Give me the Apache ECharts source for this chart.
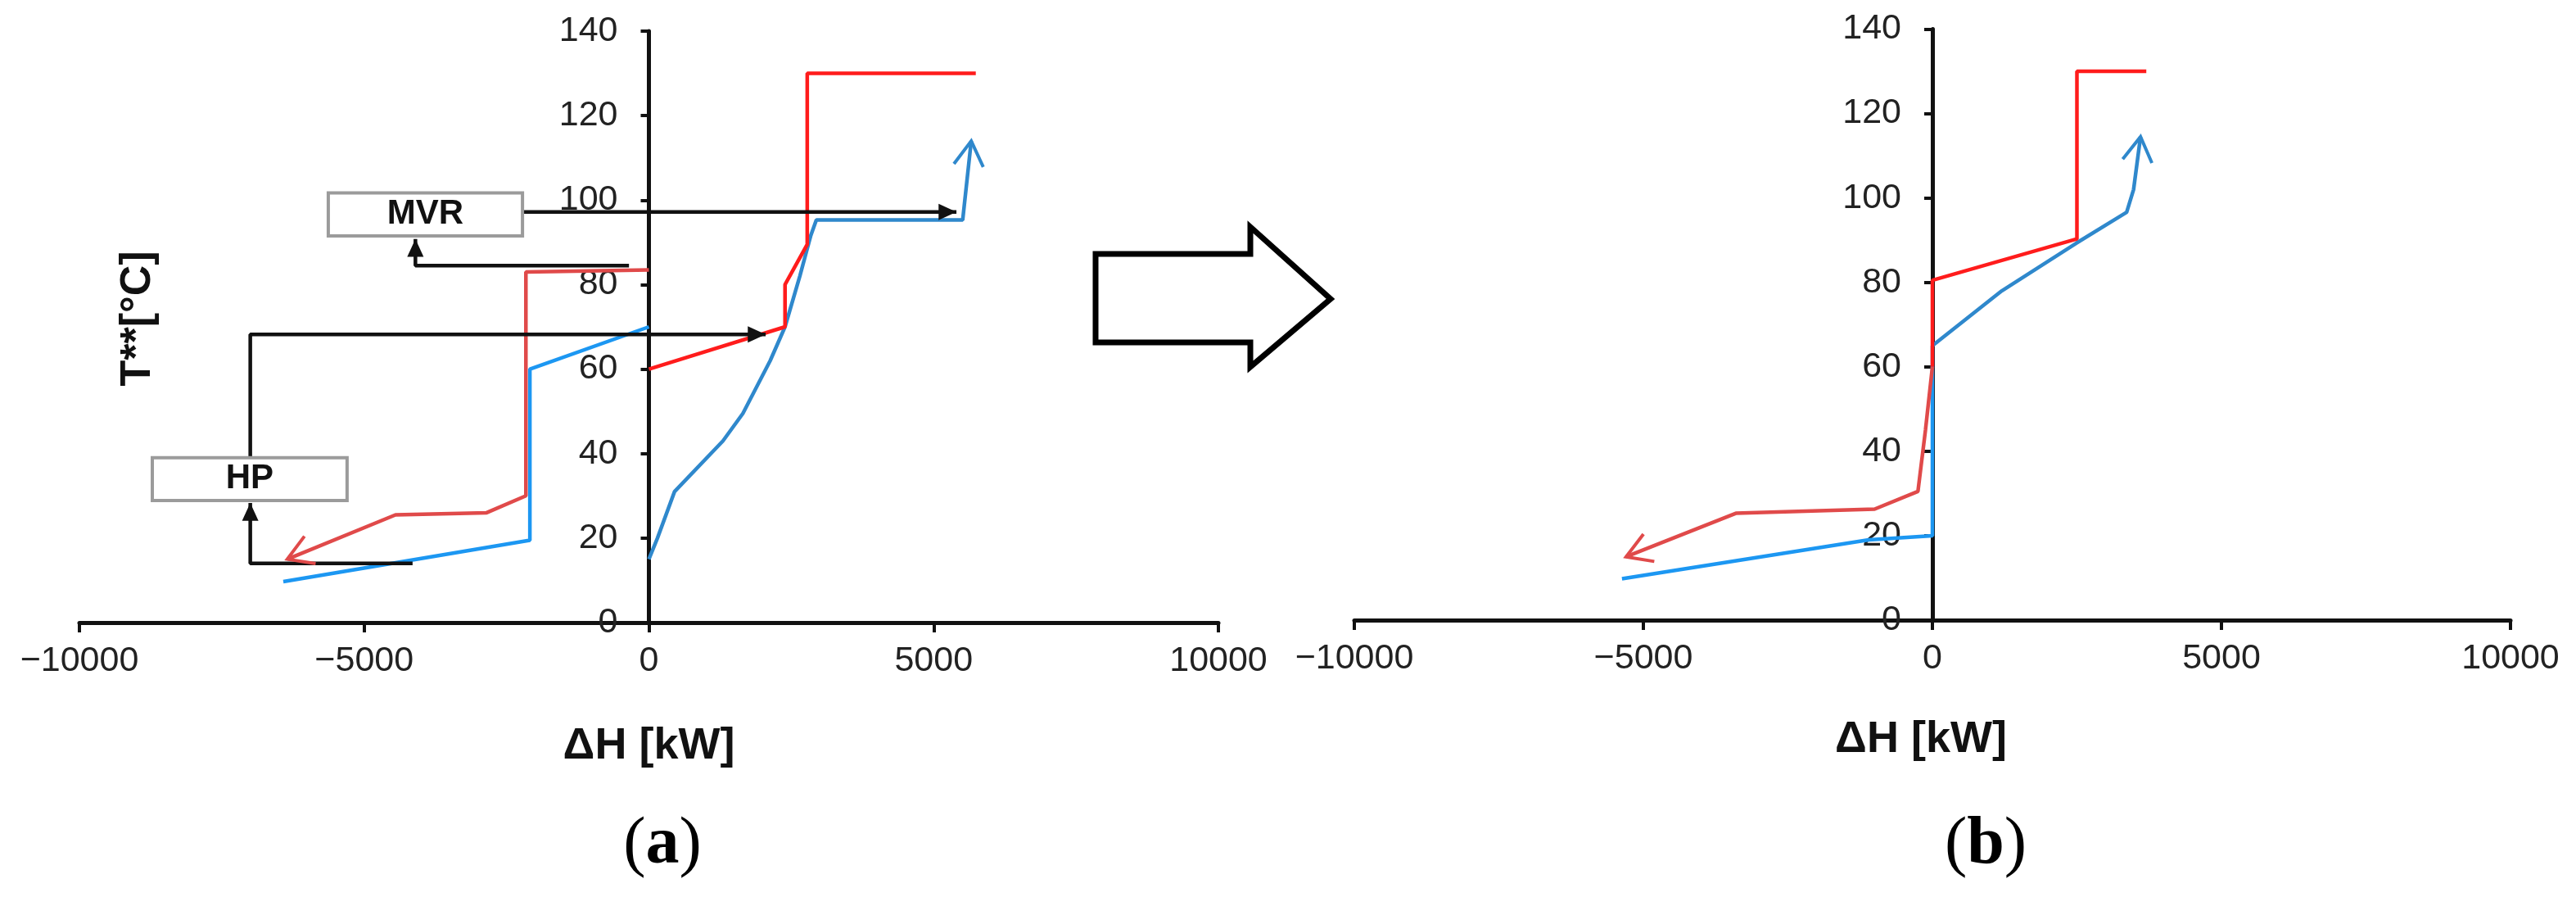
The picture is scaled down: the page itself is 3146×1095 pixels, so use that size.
<!DOCTYPE html>
<html>
<head>
<meta charset="utf-8">
<title>Grand composite curves</title>
<script src="https://cdn.jsdelivr.net/npm/echarts@6/dist/echarts.min.js"></script>
<style>
  html, body { margin: 0; padding: 0; background: #fff; }
  #chart { width: 3146px; height: 1095px; }
</style>
</head>
<body>
<div id="chart"></div>
<script>
// axis ticks (same for both panels)
const xTicks = [-10000, -5000, 0, 5000, 10000];
const yTicks = [0, 20, 40, 60, 80, 100, 120, 140];

// (a) before integration, points are [ΔH kW, T °C]
const hotHighA = [[5740, 130], [2780, 130], [2780, 89.5], [2390, 80], [2390, 70], [0, 60]];
const hotLowA = [[0, 83.5], [-2160, 83], [-2160, 30], [-2850, 26], [-4450, 25.5], [-6350, 15]];
const coldHighA = [[5660, 114], [5510, 95.3], [2940, 95.3], [2840, 91.5], [2650, 82], [2390, 70],
  [2130, 62], [1650, 49.5], [1300, 43], [450, 31], [150, 20], [0, 15]];
const coldLowA = [[0, 70], [-2090, 60], [-2090, 19.5], [-6420, 9.7]];

// MVR / HP links drawn in (a)
const mvrSupply = [[-2220, 97.2], [5400, 97.2]];
const mvrReturn = [[-350, 84.5], [-4100, 84.5], [-4100, 90.8]];
const hpSupply = [[-7000, 39], [-7000, 68.2], [2050, 68.2]];
const hpReturn = [[-4150, 14], [-7000, 14], [-7000, 28.3]];
const unitNames = ['MVR', 'HP'];
const unitBoxes = [[-5630, 91.5, -2220, 101.7], [-8720, 28.9, -5300, 39]];

// (b) after integration
const hotHighB = [[3700, 130], [2500, 130], [2500, 90.3], [0, 80.5], [0, 60]];
const hotLowB = [[0, 60], [-120, 45], [-250, 30.5], [-1000, 26.3], [-3400, 25.3], [-5300, 15]];
const coldHighB = [[3600, 114.5], [3480, 102], [3360, 96.6], [2490, 89.3], [1200, 78], [0, 65]];
const coldLowB = [[0, 65], [0, 20], [-1100, 19], [-5370, 9.8]];

const FONT = 'Liberation Sans, Arial, sans-serif';
const SERIF = 'Liberation Serif, Times New Roman, serif';
const RED = '#ff1c1c';
const RED_SOFT = '#e04a4a';
const BLUE = '#2f88cc';
const BLUE_BRIGHT = '#1c97f2';
const INK = '#111';

const grids = [
  { left: 97, top: 38, width: 1391, height: 722 },
  { left: 1654, top: 35.5, width: 1412, height: 721.5 }
];

// tip + direction point for arrow heads
const lastOf = (arr) => arr[arr.length - 1].concat(arr[arr.length - 2]);
const firstOf = (arr) => arr[0].concat(arr[1]);

function arrowHead(open) {
  return function (params, api) {
    const tip = api.coord([api.value(0), api.value(1)]);
    const from = api.coord([api.value(2), api.value(3)]);
    const a = Math.atan2(tip[1] - from[1], tip[0] - from[0]);
    const color = api.visual('color');
    const len = open ? 35 : 24;
    const spread = open ? 0.54 : 0.43;
    const p1 = [tip[0] - len * Math.cos(a - spread), tip[1] - len * Math.sin(a - spread)];
    const p2 = [tip[0] - len * Math.cos(a + spread), tip[1] - len * Math.sin(a + spread)];
    if (open) {
      return { type: 'polyline', shape: { points: [p1, tip, p2] }, style: { stroke: color, lineWidth: 4, fill: null } };
    }
    return { type: 'polygon', shape: { points: [p1, tip, p2] }, style: { fill: color } };
  };
}

function unitBox(params, api) {
  const p1 = api.coord([api.value(0), api.value(3)]);
  const p2 = api.coord([api.value(2), api.value(1)]);
  return {
    type: 'group',
    children: [
      { type: 'rect', shape: { x: p1[0], y: p1[1], width: p2[0] - p1[0], height: p2[1] - p1[1] },
        style: { fill: '#fff', stroke: '#9b9b9b', lineWidth: 4 } },
      { type: 'text', x: (p1[0] + p2[0]) / 2, y: (p1[1] + p2[1]) / 2,
        style: { text: unitNames[params.dataIndex], fontFamily: FONT, fontWeight: 'bold', fontSize: 42,
          fill: INK, align: 'center', verticalAlign: 'middle', textAlign: 'center', textVerticalAlign: 'middle' } }
    ]
  };
}

function xAxisFor(gridIndex, nameGap, namePad) {
  return {
    type: 'value', gridIndex,
    min: xTicks[0], max: xTicks[xTicks.length - 1], interval: xTicks[1] - xTicks[0],
    name: 'ΔH [kW]', nameLocation: 'middle', nameGap: nameGap,
    nameTextStyle: { fontFamily: FONT, fontWeight: 'bold', fontSize: 54, color: INK, padding: namePad },
    axisLine: { onZero: false, lineStyle: { color: INK, width: 5 } },
    axisTick: { length: 12, lineStyle: { color: INK, width: 4 } },
    axisLabel: { fontFamily: FONT, fontSize: 43, color: '#222', margin: 26, showMinLabel: true, showMaxLabel: true,
      formatter: (v) => (v < 0 ? '\u2212' + Math.abs(v) : String(v)) },
    splitLine: { show: false }
  };
}

// the T axis sits on ΔH = 0, pushed in from the grid's left edge
function yAxisFor(gridIndex, name) {
  const span = xTicks[xTicks.length - 1] - xTicks[0];
  return {
    type: 'value', gridIndex, position: 'left',
    offset: -grids[gridIndex].width * (0 - xTicks[0]) / span,
    min: yTicks[0], max: yTicks[yTicks.length - 1], interval: yTicks[1] - yTicks[0],
    name: name, nameLocation: 'middle', nameGap: 598, nameRotate: 90,
    nameTextStyle: { fontFamily: FONT, fontWeight: 'bold', fontSize: 52, color: INK, padding: [0, 0, 0, 20] },
    axisLine: { onZero: false, lineStyle: { color: INK, width: 5 } },
    axisTick: { length: 10, lineStyle: { color: INK, width: 4 } },
    axisLabel: { fontFamily: FONT, fontSize: 43, color: '#222', margin: 38, showMinLabel: true, showMaxLabel: true },
    splitLine: { show: false }
  };
}

function curve(name, data, color, gi, z) {
  return {
    name, type: 'line', data, xAxisIndex: gi, yAxisIndex: gi,
    symbol: 'none', smooth: false, z: z || 2, silent: true,
    lineStyle: { color, width: 4.5 }
  };
}

function heads(name, items, open, gi) {
  return {
    name, type: 'custom', coordinateSystem: 'cartesian2d', xAxisIndex: gi, yAxisIndex: gi,
    renderItem: arrowHead(open), encode: { x: [0, 2], y: [1, 3] }, z: 5, silent: true,
    data: items.map(([v, c]) => ({ value: v, itemStyle: { color: c } }))
  };
}

const chart = echarts.init(document.getElementById('chart'), null, { renderer: 'canvas' });

chart.setOption({
  animation: false,
  backgroundColor: '#fff',
  grid: grids.map((g) => Object.assign({ outerBoundsMode: 'none' }, g)),
  xAxis: [xAxisFor(0, 124, [0, 0, 0, 0]), xAxisFor(1, 119, [0, 28, 10, 0])],
  yAxis: [yAxisFor(0, 'T**[°C]'), yAxisFor(1, '')],
  series: [
    // panel (a)
    curve('cold high a', coldHighA, BLUE, 0),
    curve('cold low a', coldLowA, BLUE_BRIGHT, 0),
    curve('hot low a', hotLowA, RED_SOFT, 0),
    curve('hot high a', hotHighA, RED, 0),
    curve('mvr supply', mvrSupply, INK, 0, 3),
    curve('mvr return', mvrReturn, INK, 0, 3),
    curve('hp supply', hpSupply, INK, 0, 3),
    curve('hp return', hpReturn, INK, 0, 3),
    heads('curve heads a', [[firstOf(coldHighA), BLUE], [lastOf(hotLowA), RED_SOFT]], true, 0),
    heads('link heads a', [[lastOf(mvrSupply), INK], [lastOf(mvrReturn), INK],
      [lastOf(hpSupply), INK], [lastOf(hpReturn), INK]], false, 0),
    {
      name: 'units', type: 'custom', coordinateSystem: 'cartesian2d', xAxisIndex: 0, yAxisIndex: 0,
      renderItem: unitBox, encode: { x: [0, 2], y: [1, 3] }, z: 4, silent: true, data: unitBoxes
    },
    // panel (b)
    curve('cold high b', coldHighB, BLUE, 1),
    curve('cold low b', coldLowB, BLUE_BRIGHT, 1),
    curve('hot low b', hotLowB, RED_SOFT, 1),
    curve('hot high b', hotHighB, RED, 1),
    heads('curve heads b', [[firstOf(coldHighB), BLUE], [lastOf(hotLowB), RED_SOFT]], true, 1)
  ],
  graphic: [
    {
      type: 'polygon', silent: true,
      shape: { points: [[1338, 310], [1527, 310], [1527, 277], [1625, 365], [1527, 448], [1527, 418], [1338, 418]] },
      style: { fill: '#fff', stroke: '#000', lineWidth: 7, lineJoin: 'miter' }
    },
    {
      type: 'text', x: 809, y: 1032, silent: true,
      style: { text: '({b|a})', fontFamily: SERIF, fontSize: 82, fill: '#000',
        align: 'center', verticalAlign: 'middle', textAlign: 'center', textVerticalAlign: 'middle',
        rich: { b: { fontFamily: SERIF, fontSize: 82, fontWeight: 'bold' } } }
    },
    {
      type: 'text', x: 2425, y: 1032, silent: true,
      style: { text: '({b|b})', fontFamily: SERIF, fontSize: 82, fill: '#000',
        align: 'center', verticalAlign: 'middle', textAlign: 'center', textVerticalAlign: 'middle',
        rich: { b: { fontFamily: SERIF, fontSize: 82, fontWeight: 'bold' } } }
    }
  ]
});

window.addEventListener('resize', () => chart.resize());
</script>
</body>
</html>
